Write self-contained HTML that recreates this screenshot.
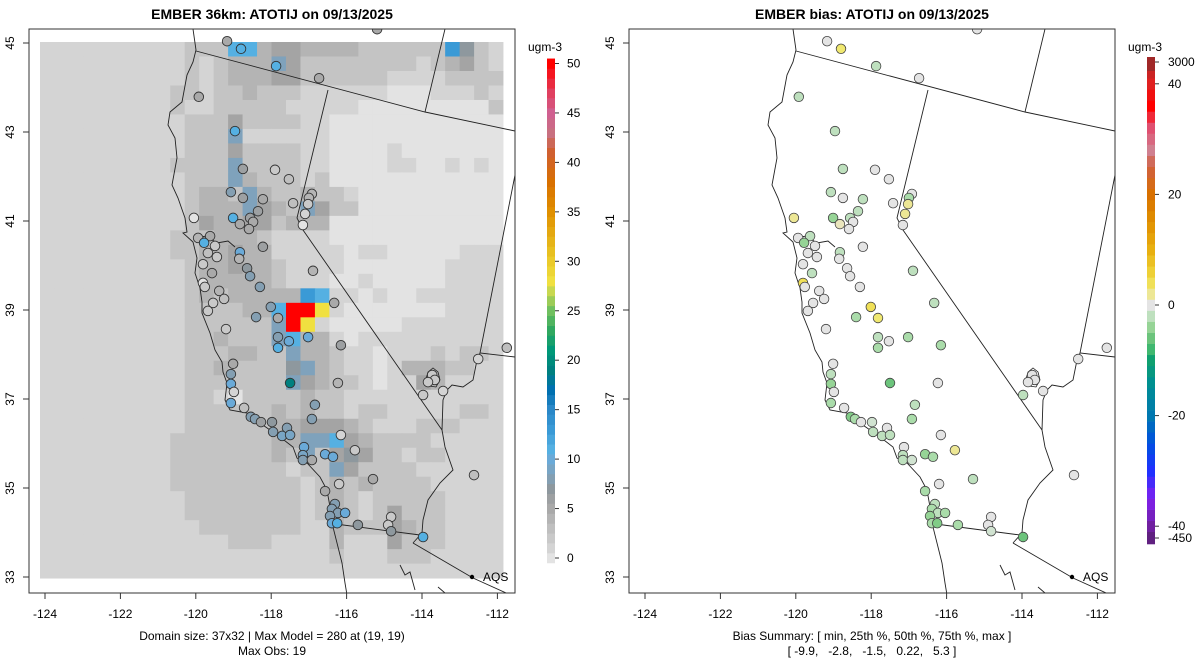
<!DOCTYPE html>
<html><head><meta charset="utf-8"><style>
html,body{margin:0;padding:0;background:#fff}
svg{display:block;font-family:"Liberation Sans",sans-serif}
</style></head><body>
<svg id="chart" width="1200" height="672" viewBox="0 0 1200 672" xmlns="http://www.w3.org/2000/svg">
<defs>
<clipPath id="clipL"><rect x="29" y="29" width="486" height="564"/></clipPath>
<clipPath id="clipR"><rect x="629" y="29" width="486" height="564"/></clipPath>
</defs>
<text x="272" y="19" text-anchor="middle" font-size="14" font-weight="bold">EMBER 36km: ATOTIJ on 09/13/2025</text>
<text x="872" y="19" text-anchor="middle" font-size="14" font-weight="bold">EMBER bias: ATOTIJ on 09/13/2025</text>
<g id="gridL" clip-path="url(#clipL)"></g>
<g id="mapL" clip-path="url(#clipL)"></g>
<g id="mapR" clip-path="url(#clipR)"></g>
<g id="ptsL" clip-path="url(#clipL)"></g>
<g id="ptsR" clip-path="url(#clipR)"></g>
<rect x="29" y="29" width="486" height="564" fill="none" stroke="#333" stroke-width="1"/>
<rect x="629" y="29" width="486" height="564" fill="none" stroke="#333" stroke-width="1"/>
<g id="axes" font-size="12" fill="#000"></g>
<g id="cbars" font-size="12"></g>
<text x="272" y="640" text-anchor="middle" font-size="12">Domain size: 37x32 | Max Model = 280 at (19, 19)</text>
<text x="272" y="655" text-anchor="middle" font-size="12">Max Obs: 19</text>
<text x="872" y="640" text-anchor="middle" font-size="12">Bias Summary: [ min, 25th %, 50th %, 75th %, max ]</text>
<text x="872" y="655" text-anchor="middle" font-size="12" style="white-space:pre" xml:space="preserve">[ -9.9,   -2.8,   -1.5,   0.22,   5.3 ]</text>
</svg>
<script>
const NS="http://www.w3.org/2000/svg";
// ---- data ----
const xTicks=[-124,-122,-120,-118,-116,-114,-112];
const yTicks=[45,43,41,39,37,35,33];
const concTicks=[0,5,10,15,20,25,30,35,40,45,50];
const biasTickValues=[40,20,0,-20,-40];
const biasTickLabels=["3000","40","20","0","-20","-40","-450"];
const gridCodes=["0","1","2","3","4","5","6","7","8","Y","R"];
const gridCodeValues=[0,1,2.5,4,5.5,7,8.5,11,13,28,50];
const gridRows=[
"1111111111222773443333222222852 1",
"1111111111212333642222222212342",
"111111111121233344222222111122222",
"11111111122122322211111100011121",
"1111111112112222211111000000000 2",
"11111111112224222211000000000000",
"11111111112226111111000000000000",
"11111111112224222211000010000000",
"11111111122226222211000011001010",
"11111111112226322212000000000000",
"11111111112332632232210000000000",
"11111111112333643264220000000000",
"11111111112433442333000000000000",
"11111111122233321111000000000000",
"11111111122334331111101100000111",
"11111111112334332111100000001111",
"11111111112333332111001000001111",
"11111111112323333387110100111111",
"11111111112222337RRY100000001111",
"11111111112222226RY1000001111111",
"11111111112232226733101111111111",
"11111111112223322633211011121221",
"11111111112232222563211013332211",
"11111111112222222643221011431111",
"11111111112210222232211111111111",
"11111111112222223232212211111221",
"11111111112222223344432111222111",
"11111111122222223366743222211111",
"11111111122222223262454221221111",
"11111111122222222122642222111111",
"11111111122222222212323222211111",
"11111111112222222212321222221111",
"11111111112222222212321242221111",
"11111111111222222211322243221111",
"11111111111112221111311142221111",
"11111111111111111111211122211111",
"11111111111111111111111111111111"];
const obsLon=[-119.17,-118.80,-115.19,-117.87,-116.73,-119.92,-118.96,-118.75,-117.90,-117.53,-119.07,-118.75,-118.22,-117.42,-116.92,-117.00,-117.02,-117.10,-117.16,-120.05,-119.01,-118.56,-118.35,-118.83,-118.48,-118.59,-119.94,-119.62,-119.78,-119.49,-119.68,-119.44,-118.22,-118.83,-118.85,-119.81,-118.64,-119.57,-118.56,-119.81,-118.30,-119.38,-119.76,-116.89,-119.25,-119.54,-119.68,-118.01,-116.33,-118.40,-117.82,-119.20,-117.82,-117.53,-117.02,-117.82,-116.15,-119.01,-119.07,-119.07,-118.99,-117.50,-116.23,-119.07,-118.72,-118.54,-118.43,-118.27,-117.98,-116.84,-116.92,-117.95,-117.58,-117.71,-117.50,-116.15,-117.13,-115.78,-116.57,-116.36,-117.16,-117.16,-116.92,-115.30,-116.20,-116.57,-112.62,-111.75,-112.51,-113.73,-113.66,-113.84,-113.97,-113.44,-116.31,-116.39,-116.23,-116.04,-116.44,-116.39,-116.25,-115.70,-114.82,-114.90,-114.82,-113.97];
const obsLat=[45.04,44.87,45.31,44.48,44.21,43.79,43.02,42.17,42.15,41.94,41.65,41.52,41.49,41.40,41.61,41.52,41.38,41.16,40.91,41.07,41.07,41.07,41.22,40.93,40.98,40.82,40.62,40.66,40.51,40.44,40.28,40.19,40.42,40.30,40.15,40.03,39.94,39.83,39.76,39.61,39.52,39.43,39.52,39.88,39.25,39.16,38.98,39.07,39.16,38.84,38.82,38.57,38.39,38.30,38.39,38.15,38.21,37.79,37.56,37.34,37.16,37.36,37.36,36.91,36.80,36.60,36.55,36.48,36.48,36.87,36.55,36.26,36.35,36.17,36.19,36.19,35.92,35.85,35.76,35.70,35.74,35.63,35.63,35.20,35.09,34.93,35.29,38.15,37.90,37.54,37.43,37.38,37.09,37.18,34.64,34.53,34.44,34.44,34.37,34.21,34.21,34.17,34.35,34.17,34.03,33.90];
const obsValues=[5,11,5,11,5,5,11,6,2,3,8,6,5,3,4,4,2,1,0,0,11,6,6,5,5,5,4,5,11,2,3,2,6,10,4,2,7,5,8,0,8,4,2,4,3,2,2,8,5,8,5,2,8,10,10,11,6,5,8,10,1,19,4,10,3,8,8,6,7,8,8,8,8,9,9,1,10,2,10,10,9,8,5,5,2,5,3,3,1,2,2,2,2,1,8,8,8,10,8,10,11,7,2,2,7,11];
const biasValues=[0,3,0,-2,0,-2,-2,-2,0,0,-2,0,-2,0,0,-3,2,2,0,2,-4,-2,-2,1,0,0,0,-2,-4,0,0,0,0,-2,0,0,0,-2,0,4,0,0,0,-2,0,0,0,4,-2,-3,3,0,-2,0,-3,-3,-3,0,-2,-4,0,-6,0,-3,0,-5,-3,0,-1,-2,-3,-2,0,-2,-2,0,0,2,-4,-3,-2,-2,-1,-2,0,-3,0,0,0,0,0,0,-2,0,-2,-3,-2,-3,-4,-3,-5,-3,0,0,-1,-6];

// ---- scales ----
const gx0=40,gy0=42,gcw=14.47,gch=14.49;
function lonX(lon,off){return 45+(lon+124)*37.7+(off||0);}
function latY(lat){return 43+(45-lat)*44.5;}
function hex(c){return [parseInt(c.substr(1,2),16),parseInt(c.substr(3,2),16),parseInt(c.substr(5,2),16)];}
function interp(stops,v){
  if(v<=stops[0][0])return stops[0][1];
  for(let i=1;i<stops.length;i++){if(v<=stops[i][0]){const a=stops[i-1],b=stops[i];const t=(v-a[0])/(b[0]-a[0]);const ca=hex(a[1]),cb=hex(b[1]);return "rgb("+ca.map((x,k)=>Math.round(x+(cb[k]-x)*t)).join(",")+")";}}
  return stops[stops.length-1][1];
}
const concStops=[[0,"#e3e3e3"],[1,"#d4d4d4"],[2.5,"#c4c4c4"],[4,"#b4b4b4"],[5.5,"#a4a4a4"],[7,"#8e989e"],[8.5,"#7fa2bc"],[10,"#6aaad8"],[11,"#55b0e2"],[13,"#3a9ad6"],[15,"#2a88c8"],[17,"#0070b0"],[19,"#008080"],[21,"#009878"],[23,"#30a860"],[25,"#70c060"],[27,"#c8d850"],[28,"#f0e040"],[31,"#e8c020"],[35,"#e09000"],[38,"#d87000"],[41,"#d06030"],[43,"#c87080"],[45,"#d06090"],[47,"#e04060"],[50,"#ff0000"]];
const biasStops=[[-46,"#602080"],[-40,"#7020a0"],[-35,"#8020f0"],[-30,"#2030ff"],[-25,"#0050e0"],[-20,"#0078b0"],[-14,"#009090"],[-10,"#10a070"],[-8,"#40b870"],[-6,"#6cc47c"],[-4.5,"#8cd08c"],[-3,"#aadcaa"],[-1.5,"#c8e2c8"],[0,"#e4e4e4"],[1.5,"#ece6a8"],[3,"#f0e870"],[5,"#f0d840"],[10,"#e8b010"],[15,"#e09000"],[20,"#d87000"],[25,"#d06040"],[28,"#d08090"],[32,"#e05070"],[36,"#ff0000"],[40,"#e02020"],[46,"#a02828"]];
function mk(tag,attrs,parent){const e=document.createElementNS(NS,tag);for(const k in attrs)e.setAttribute(k,attrs[k]);parent.appendChild(e);return e;}

// ---- grid ----
const gL=document.getElementById("gridL");
gridRows.forEach((row,r)=>{
  const s=(row.replace(/ /g,"")+"11111111111111111111111111111111").substr(0,32);
  for(let c=0;c<32;c++){
    const v=gridCodeValues[gridCodes.indexOf(s[c])];
    const e=mk("rect",{x:(gx0+c*gcw).toFixed(2),y:(gy0+r*gch).toFixed(2),width:(gcw+0.4).toFixed(2),height:(gch+0.4).toFixed(2),fill:interp(concStops,v)},gL);
    
    
  }
});

// ---- basemap (pixel geometry of left panel) ----
const coast="M193,29 L196,50 L193,62 L187,75 L182,102 L170,112 L168,125 L175,138 L177,158 L172,185 L178,198 L185,218 L187,232 L183,233 L193,242 L197,258 L195,273 L200,288 L202,302 L202,313 L210,333 L215,350 L222,362 L223,372 L227,383 L225,400 L230,410 L247,413 L260,423 L270,430 L280,437 L293,447 L297,458 L307,463 L320,477 L327,490 L330,507 L327,517 L333,527 L338,547 L342,563 L345,583 L347,595 M197,238 L206,236 L217,243 L228,241 L235,247 M400,565 L405,575 L410,572 L415,590 M438,587 L445,593";
const borders="M196,51 L425,112 L515,131 M445,29 L425,112 M328,90 L297,218 L303,230 L442,430 M442,430 L445,447 L453,470 L440,483 L428,500 L423,520 L422,533 L413,543 M328,523 L420,535 M413,543 L473,578 L515,597 M515,175 L480,353 L515,357 M480,353 L477,360 L473,380 L463,387 L452,385 L447,390 L443,400 L442,430";
const lake="M428,372 L433,368 L438,372 L440,380 L436,387 L429,386 L426,379 Z";
[["mapL",0],["mapR",600]].forEach(([id,off])=>{
  const g=document.getElementById(id);
  const t="translate("+off+",0)";
  let e=mk("path",{d:coast,fill:"none",stroke:"#222","stroke-width":"0.9",transform:t},g);
  
  
  e=mk("path",{d:borders,fill:"none",stroke:"#222","stroke-width":"0.9",transform:t},g);
  
  
  e=mk("path",{d:lake,fill:"none",stroke:"#222","stroke-width":"0.8",transform:t},g);
  
  
  e=mk("circle",{cx:472+off,cy:577,r:2.2,fill:"#000"},g);
  
  
  e=mk("text",{x:483+off,y:581,"font-size":"12"},g);
  e.textContent="AQS";
  
  
});

// ---- points ----
const pL=document.getElementById("ptsL"),pR=document.getElementById("ptsR");
for(let i=0;i<obsLon.length;i++){
  let e=mk("circle",{cx:lonX(obsLon[i]).toFixed(1),cy:latY(obsLat[i]).toFixed(1),r:4.8,fill:interp(concStops,obsValues[i]),stroke:"#333","stroke-width":"0.9"},pL);
  
  
  e=mk("circle",{cx:lonX(obsLon[i],600).toFixed(1),cy:latY(obsLat[i]).toFixed(1),r:4.8,fill:interp(biasStops,biasValues[i]),stroke:"#444","stroke-width":"0.8"},pR);
  
  
}

// ---- axes ----
const ax=document.getElementById("axes");
[0,600].forEach(off=>{
  xTicks.forEach(v=>{
    const x=lonX(v,off);
    let e=mk("line",{x1:x,y1:593,x2:x,y2:599,stroke:"#333"},ax);
    
    
    e=mk("text",{x:x,y:618,"text-anchor":"middle"},ax);
    e.textContent=String(v);
    
    
  });
  yTicks.forEach(v=>{
    const y=latY(v);
    let e=mk("line",{x1:23+off,y1:y,x2:29+off,y2:y,stroke:"#333"},ax);
    
    
    e=mk("text",{x:14+off,y:y,"text-anchor":"middle",transform:"rotate(-90 "+(14+off)+" "+y+")"},ax);
    e.textContent=String(v);
    
    
  });
});

// ---- colorbars ----
const cb=document.getElementById("cbars");
function cY(v){return 558-v*9.89;}
for(let i=0;i<=50;i++){
  const e=mk("rect",{x:547,y:(cY(i)-4.95).toFixed(2),width:8,height:10.2,fill:interp(concStops,i)},cb);
  
  
}
concTicks.forEach(v=>{
  let e=mk("line",{x1:555,y1:cY(v),x2:559,y2:cY(v),stroke:"#333"},cb);
  
  
  e=mk("text",{x:567,y:cY(v)+4},cb);
  e.textContent=String(v);
  
  
});
let t=mk("text",{x:545,y:51,"text-anchor":"middle"},cb);t.textContent="ugm-3";



function bY(v){return 305-v*5.53;}
for(let v=-44;v<=44;v+=2){
  const y0=Math.max(57,bY(v+1)),y1=Math.min(544,bY(v-1));
  const e=mk("rect",{x:1147,y:y0.toFixed(2),width:8,height:(y1-y0+0.3).toFixed(2),fill:interp(biasStops,v)},cb);
  
  
}
let e0=mk("rect",{x:1147,y:57,width:8,height:14,fill:"#a02828"},cb);


e0=mk("rect",{x:1147,y:532,width:8,height:12,fill:"#602080"},cb);


const biasTickYs=[62].concat(biasTickValues.map(bY)).concat([538]);
biasTickLabels.forEach((lab,i)=>{
  const y=biasTickYs[i];
  let e=mk("line",{x1:1155,y1:y,x2:1159,y2:y,stroke:"#333"},cb);
  
  
  e=mk("text",{x:1168,y:y+4},cb);
  e.textContent=lab;
  
  
});
t=mk("text",{x:1145,y:51,"text-anchor":"middle"},cb);t.textContent="ugm-3";


</script>
</body></html>
